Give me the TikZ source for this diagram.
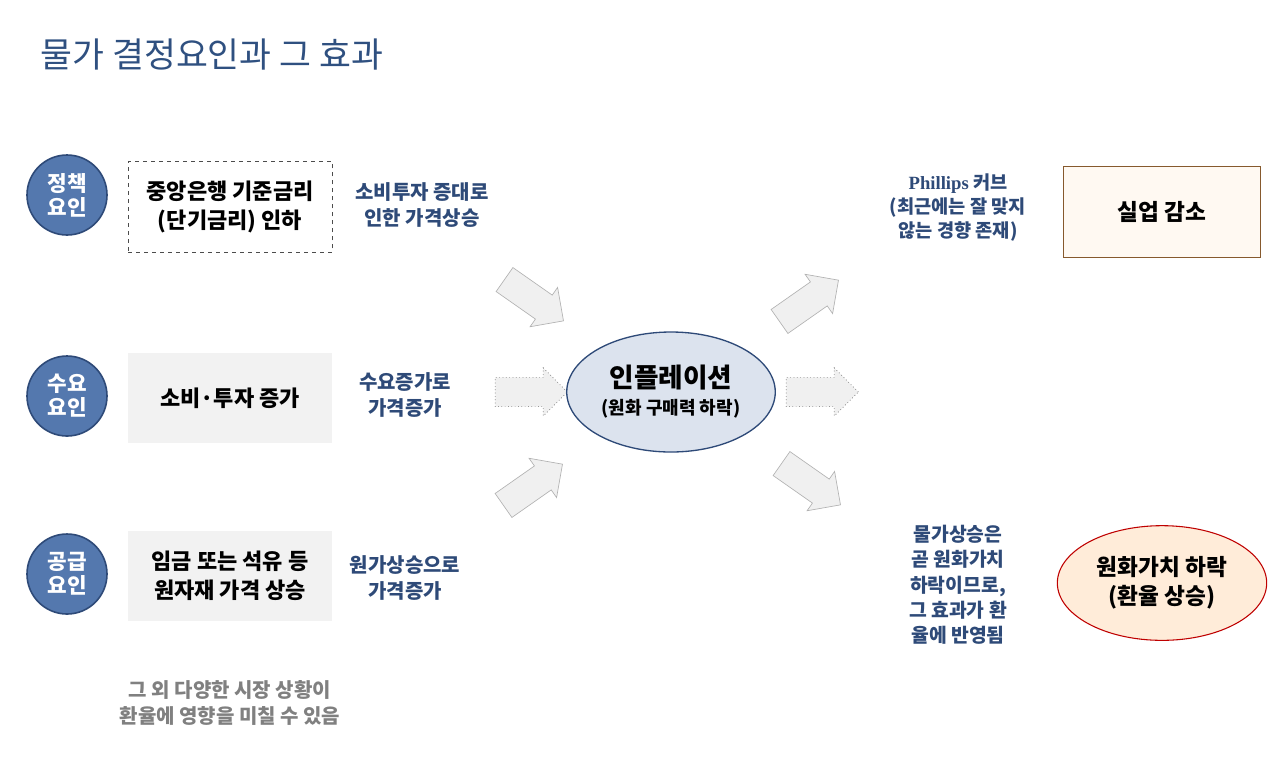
\documentclass[tikz,border=0pt]{standalone}
\usepackage{fontspec}
\setmainfont{Noto Sans CJK KR}
\newfontfamily\serifl{Liberation Serif}
\usetikzlibrary{shapes.geometric,shapes.arrows}
\definecolor{ttl}{HTML}{2F5080}
\definecolor{lbl}{HTML}{2E4A78}
\definecolor{circ}{HTML}{5478AE}
\definecolor{inff}{HTML}{DCE3EE}
\begin{document}
\begin{tikzpicture}[x=0.75pt,y=-0.75pt,
  fac/.style={circle,minimum size=60pt,fill=circ,draw=lbl,line width=1.2pt,text=white,font=\bfseries\fontsize{16}{18}\selectfont,align=center,inner sep=0pt},
  cbox/.style={minimum width=153pt,minimum height=68pt,font=\bfseries\fontsize{16.5}{22}\selectfont,align=center},
  lab/.style={text=lbl,font=\bfseries\fontsize{15}{19}\selectfont,align=center},
  blk/.style={single arrow,draw=gray!60,fill=gray!12,minimum height=54pt,minimum width=36pt,single arrow head extend=4pt,single arrow head indent=0pt,inner sep=6pt,line width=0.5pt},
  blkd/.style={blk,dotted,draw=gray!80!black}]
\useasboundingbox (0,0) rectangle (1280,765);
\node[anchor=west,text=ttl,font=\fontsize{26}{30}\selectfont] (title) at (36,55) {물가 결정요인과 그 효과};
\node[fac] (c1) at (67,195) {정책\\요인};
\node[fac] (c2) at (67,396) {수요\\요인};
\node[fac] (c3) at (67,574) {공급\\요인};
\node[cbox,draw=black!70,dashed,fill=white] (b1) at (230,207) {중앙은행 기준금리\\(단기금리) 인하};
\node[cbox,fill=gray!10] (b2) at (230,398) {소비·투자 증가};
\node[cbox,fill=gray!10] (b3) at (230,576) {임금 또는 석유 등\\원자재 가격 상승};
\node[lab] (l1) at (422,205) {소비투자 증대로\\인한 가격상승};
\node[lab] (l2) at (405,395) {수요증가로\\가격증가};
\node[lab] (l3) at (405,578) {원가상승으로\\가격증가};
\node[blk,rotate=-35] (a1) at (528,296) {};
\node[blkd] (a2) at (524,392) {};
\node[blk,rotate=35] (a3) at (527,489) {};
\node[ellipse,minimum width=147pt,minimum height=90pt,fill=inff,draw=lbl,line width=1pt,align=center] (inf) at (671,392) {{\bfseries\fontsize{20}{24}\selectfont 인플레이션}\\[6pt]{\bfseries\fontsize{13.5}{16}\selectfont (원화 구매력 하락)}};
\node[blk,rotate=35] (a4) at (803,305) {};
\node[blkd] (a5) at (815,392) {};
\node[blk,rotate=-35] (a6) at (805,480) {};
\node[lab,font=\bfseries\fontsize{14}{18}\selectfont] (ph) at (958,208) {{\serifl\bfseries Phillips} 커브\\(최근에는 잘 맞지\\않는 경향 존재)};
\node[minimum width=148pt,minimum height=68pt,fill=orange!5,draw=brown!70!black,line width=0.8pt,font=\bfseries\fontsize{17}{20}\selectfont] (job) at (1162,212) {실업 감소};
\node[lab,font=\bfseries\fontsize{14.5}{19}\selectfont] (tx) at (958,585) {물가상승은\\곧 원화가치\\하락이므로,\\그 효과가 환\\율에 반영됨};
\node[ellipse,minimum width=157pt,minimum height=86pt,fill=orange!15,draw=red!75!black,line width=0.8pt,align=center,font=\bfseries\fontsize{17}{22}\selectfont] (won) at (1162,583) {원화가치 하락\\(환율 상승)};
\node[text=gray,font=\bfseries\fontsize{15}{19}\selectfont,align=center] (note) at (230,703) {그 외 다양한 시장 상황이\\환율에 영향을 미칠 수 있음};
\end{tikzpicture}
\end{document}
